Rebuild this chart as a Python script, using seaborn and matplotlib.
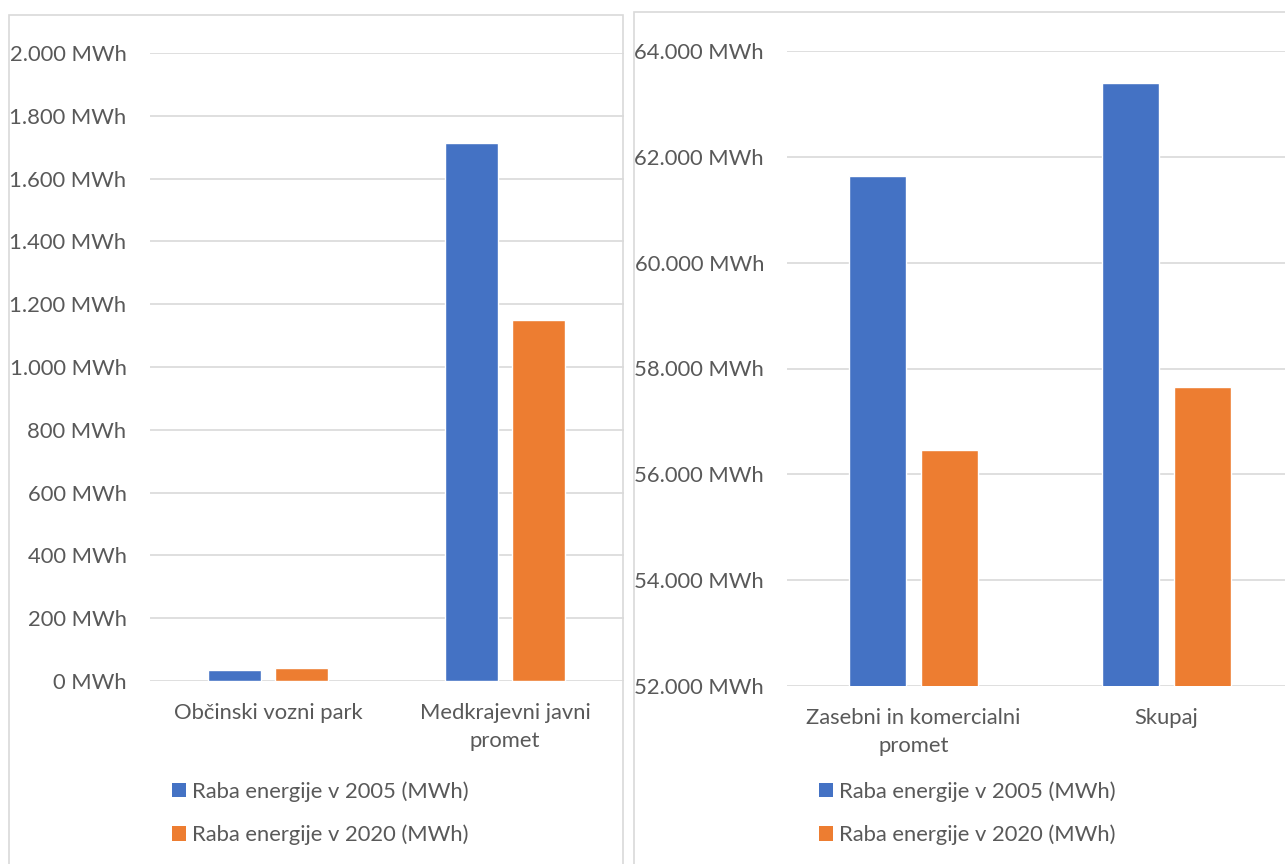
import matplotlib
matplotlib.use("Agg")
import matplotlib.pyplot as plt
from matplotlib.patches import Rectangle, Patch
from matplotlib.ticker import FuncFormatter, MultipleLocator
import pandas as pd
import seaborn as sns

# Energy use in transport (MWh)
series_names = ["Raba energije v 2005 (MWh)", "Raba energije v 2020 (MWh)"]

left_categories = ["Občinski vozni park", "Medkrajevni javni\npromet"]
left_2005 = [36, 1712]
left_2020 = [40, 1150]

right_categories = ["Zasebni in komercialni\npromet", "Skupaj"]
right_2005 = [61640, 63388]
right_2020 = [56460, 57650]

colors = ["#4472C4", "#ED7D31"]
text_color = "#595959"
grid_color = "#D9D9D9"
FS = 15.8

sns.set_theme(style="white")
plt.rcParams["font.family"] = ["Lato", "DejaVu Sans"]

W, H = 1285, 864
fig = plt.figure(figsize=(W / 100, H / 100), dpi=100)


def frac(x0, y0, x1, y1):
    """Pixel box (top-left origin) to figure fraction [l, b, w, h]."""
    return [x0 / W, 1 - y1 / H, (x1 - x0) / W, (y1 - y0) / H]


# Chart panel frames
for (x0, y0, x1, y1) in [(9, 15, 623, 880), (634, 12, 1300, 880)]:
    fig.patches.append(Rectangle((x0 / W, 1 - y1 / H), (x1 - x0) / W, (y1 - y0) / H,
                                 transform=fig.transFigure, fill=False,
                                 edgecolor=grid_color, linewidth=1.2, zorder=0))


def long_frame(cats, a, b):
    return pd.DataFrame({
        "kategorija": cats * 2,
        "serija": [series_names[0]] * len(cats) + [series_names[1]] * len(cats),
        "vrednost": a + b,
    })


def mwh(v, _pos):
    return f"{int(round(v)):,}".replace(",", ".") + " MWh"


def style_axis(ax, ymin, ymax, step):
    ax.set_ylim(ymin, ymax)
    ax.yaxis.set_major_locator(MultipleLocator(step))
    ax.yaxis.set_major_formatter(FuncFormatter(mwh))
    ax.grid(axis="y", color=grid_color, linewidth=1.2)
    ax.set_axisbelow(True)
    for s in ax.spines.values():
        s.set_visible(False)
    ax.tick_params(axis="both", length=0, labelsize=FS, colors=text_color)
    ax.tick_params(axis="y", pad=16.5)
    ax.tick_params(axis="x", pad=16)
    for lab in ax.get_xticklabels():
        lab.set_linespacing(1.5)
    ax.set_xlabel("")
    ax.set_ylabel("")
    ax.patch.set_alpha(0)


def legend(ax, x, y):
    handles = [Patch(facecolor=c, edgecolor="none") for c in colors]
    ax.legend(handles, series_names, loc="upper left", bbox_to_anchor=(x / W, 1 - y / H),
              bbox_transform=fig.transFigure, frameon=False, fontsize=FS,
              labelcolor=text_color, handlelength=0.64, handleheight=0.64,
              handletextpad=0.27, labelspacing=1.04, borderpad=0, borderaxespad=0)


ax1 = fig.add_axes(frac(149.5, 53, 623.5, 681))
sns.barplot(data=long_frame(left_categories, left_2005, left_2020), x="kategorija",
            y="vrednost", hue="serija", palette=colors, width=0.57, gap=0.21,
            saturation=1, legend=False, ax=ax1)
style_axis(ax1, 0, 2000, 200)
ax1.set_xlim(-0.5, 1.5)
legend(ax1, 172, 781)

ax2 = fig.add_axes(frac(787, 51, 1293, 686))
sns.barplot(data=long_frame(right_categories, right_2005, right_2020), x="kategorija",
            y="vrednost", hue="serija", palette=colors, width=0.57, gap=0.21,
            saturation=1, legend=False, ax=ax2)
style_axis(ax2, 52000, 64000, 2000)
ax2.set_xlim(-0.5, 1.5)
legend(ax2, 819, 781)

fig.savefig("out.png", dpi=100, facecolor="white")
